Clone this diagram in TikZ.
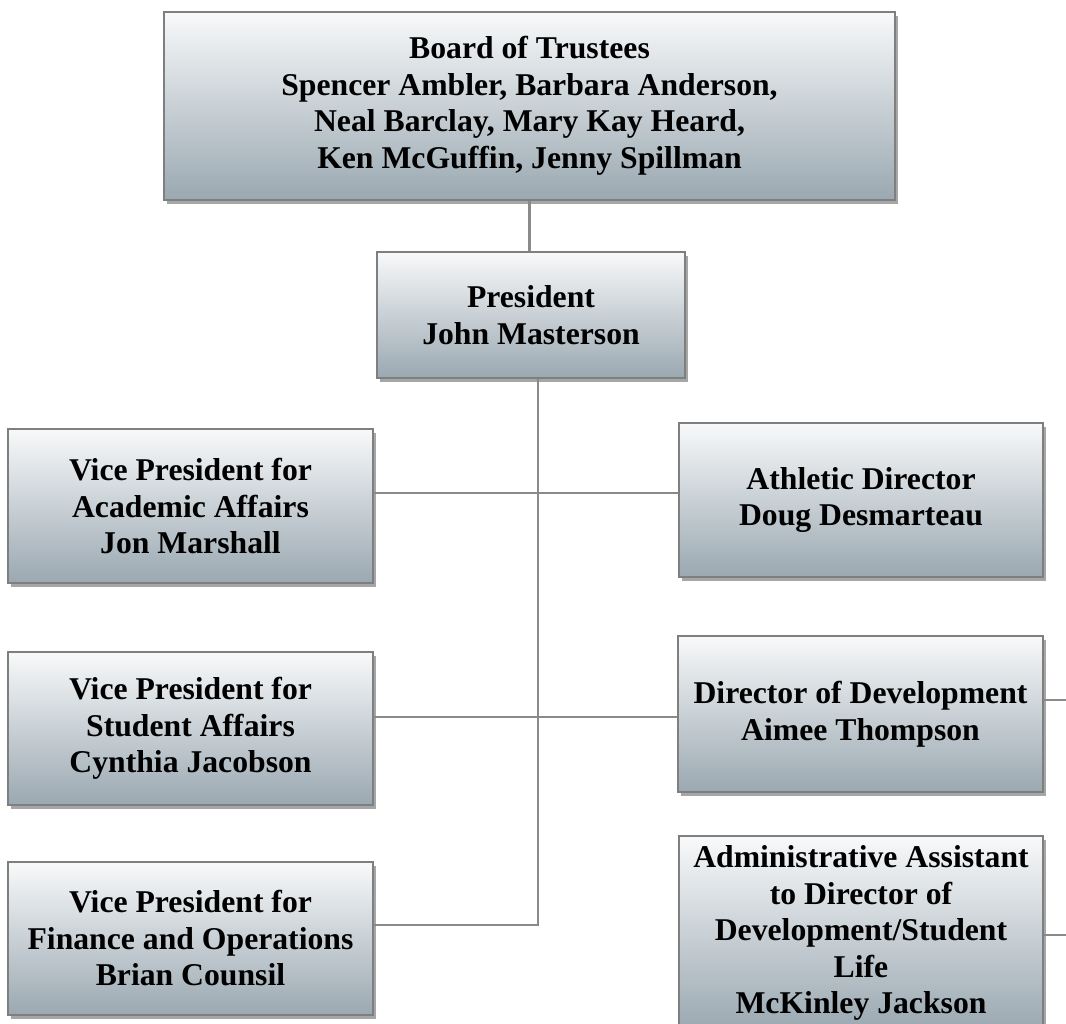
\documentclass[tikz,border=0pt]{standalone}
\usepackage{fontspec}
\setmainfont{Liberation Serif}
\usetikzlibrary{shadows}
\definecolor{boxtop}{HTML}{F8F9FA}
\definecolor{boxbot}{HTML}{9AA8B1}
\definecolor{boxline}{HTML}{7F7F7F}
\definecolor{linkgray}{HTML}{8A8A8A}

\begin{document}
\begin{tikzpicture}[x=1pt,y=-1pt,
	post/.style={rectangle, draw=boxline, line width=1.5pt,
		top color=boxtop, bottom color=boxbot,
		drop shadow={shadow xshift=3pt, shadow yshift=-4pt, fill=black, opacity=.35},
		align=center, font=\bfseries\fontsize{31.7}{36.5}\selectfont,
		inner xsep=4pt, inner ysep=10pt},
	link/.style={draw=linkgray, line width=2.2pt}]
	\useasboundingbox (0,0) rectangle (1066,1024);
	% top of the chart
	\node[post, minimum width=731, minimum height=188] (board) at (529.5,106)
		{Board of Trustees\\Spencer Ambler, Barbara Anderson,\\Neal Barclay, Mary Kay Heard,\\Ken McGuffin, Jenny Spillman};
	\node[post, minimum width=308, minimum height=126] (pres) at (531,315)
		{President\\John Masterson};
	% left column
	\node[post, minimum width=365, minimum height=154] (vpaa) at (190.5,506)
		{Vice President for\\Academic Affairs\\Jon Marshall};
	\node[post, minimum width=365, minimum height=153] (vpsa) at (190.5,728.5)
		{Vice President for\\Student Affairs\\Cynthia Jacobson};
	\node[post, minimum width=365, minimum height=153] (vpfo) at (190.5,938.5)
		{Vice President for\\Finance and Operations\\Brian Counsil};
	% right column
	\node[post, minimum width=364, minimum height=154] (ath) at (861,500)
		{Athletic Director\\Doug Desmarteau};
	\node[post, minimum width=365, minimum height=156] (dev) at (860.5,714)
		{Director of Development\\Aimee Thompson};
	\node[post, minimum width=364, anchor=north] (asst) at (861,835)
		{Administrative Assistant\\to Director of\\Development/Student\\Life\\McKinley Jackson};
	% connectors
	\coordinate (jaa) at (538,493);
	\coordinate (jsa) at (538,717);
	\coordinate (jfo) at (538,925);
	\coordinate (devend) at (1066,700);
	\coordinate (asstend) at (1066,935);
	\draw[link] (board.south) -- (board.south |- pres.north);
	\draw[link] (pres.south -| jfo) -- (jfo) -- (jfo -| vpfo.east);
	\draw[link] (jaa -| vpaa.east) -- (jaa -| ath.west);
	\draw[link] (jsa -| vpsa.east) -- (jsa -| dev.west);
	\draw[link] (devend -| dev.east) -- (devend);
	\draw[link] (asstend -| asst.east) -- (asstend);
\end{tikzpicture}
\end{document}
